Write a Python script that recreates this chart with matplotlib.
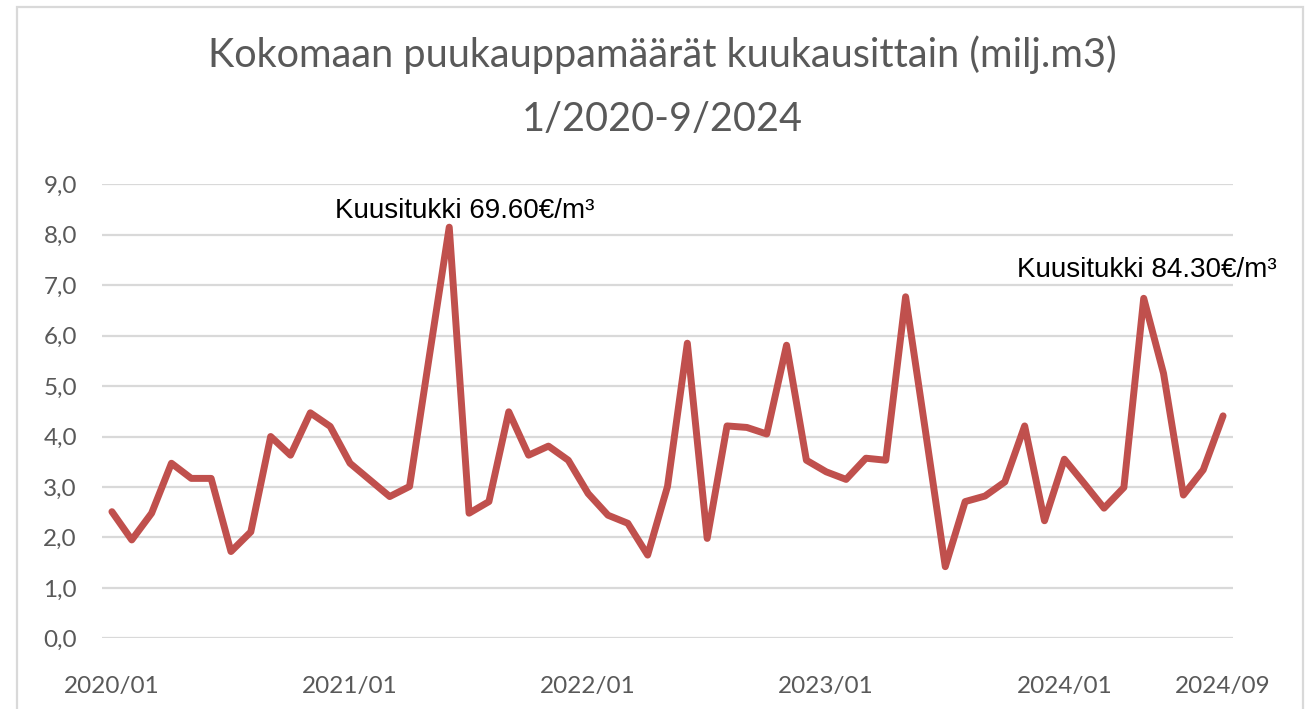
import matplotlib
matplotlib.use("Agg")
import matplotlib.pyplot as plt
from matplotlib.patches import Rectangle

# ---- data ----
months = [f"{y}/{m:02d}" for y in range(2020, 2025) for m in range(1, 13)][:57]
volumes = [2.51, 1.95, 2.48, 3.47, 3.17, 3.17, 1.72, 2.11, 4.00, 3.63, 4.47, 4.20,
           3.47, 3.14, 2.81, 3.01, 5.60, 8.15, 2.48, 2.71, 4.49, 3.63, 3.81, 3.53,
           2.87, 2.44, 2.28, 1.65, 3.01, 5.85, 1.98, 4.21, 4.18, 4.05, 5.81, 3.53,
           3.30, 3.15, 3.57, 3.53, 6.77, 4.11, 1.42, 2.71, 2.82, 3.10, 4.21, 2.33,
           3.55, 3.07, 2.58, 2.99, 6.74, 5.25, 2.84, 3.34, 4.41]
xtick_labels = ["2020/01", "2021/01", "2022/01", "2023/01", "2024/01", "2024/09"]
ytick_values = [0, 1, 2, 3, 4, 5, 6, 7, 8, 9]
title_line1 = "Kokomaan puukauppamäärät kuukausittain (milj.m3)"
title_line2 = "1/2020-9/2024"
annotations = [("Kuusitukki 69.60€/m³", 11.24, 8.33),
               ("Kuusitukki 84.30€/m³", 45.63, 7.16)]

W, H = 1305, 709
fig = plt.figure(figsize=(W / 100, H / 100), dpi=100)
fig.patch.set_facecolor("white")

ax = fig.add_axes([102 / W, 1 - 638.3 / H, (1233 - 102) / W, (638.3 - 184.3) / H])
x = list(range(len(volumes)))
ax.plot(x, volumes, color="#C0504D", lw=5.0, solid_joinstyle="round",
        solid_capstyle="round", zorder=3)

ax.set_xlim(-0.5, len(volumes) - 0.5)
ax.set_ylim(0, 9)
ax.set_yticks(ytick_values)
ax.set_yticklabels([f"{v:.1f}".replace(".", ",") for v in ytick_values])
xt = [months.index(l) for l in xtick_labels]
ax.set_xticks(xt)
ax.set_xticklabels(xtick_labels)

grey = "#595959"
ax.tick_params(axis="both", length=0, labelcolor=grey, labelsize=17.5)
ax.tick_params(axis="y", pad=18)
ax.tick_params(axis="x", pad=27)
for lab in ax.get_xticklabels() + ax.get_yticklabels():
    lab.set_fontfamily(["Lato", "DejaVu Sans"])
for s in ax.spines.values():
    s.set_visible(False)
ax.grid(axis="y", color="#d9d9d9", lw=1.6, zorder=0)
ax.set_axisbelow(True)

for txt, tx, ty in annotations:
    ax.text(tx, ty, txt, ha="left", va="baseline", fontsize=20,
            family=["Liberation Sans", "DejaVu Sans"], color="black")

fig.text(662 / W, 1 - 67 / H, title_line1, ha="center", va="baseline",
         fontsize=28.5, color=grey, family=["Lato", "DejaVu Sans"])
fig.text(662 / W, 1 - 131 / H, title_line2, ha="center", va="baseline",
         fontsize=28.5, color=grey, family=["Lato", "DejaVu Sans"])

# chart frame
fig.add_artist(Rectangle((17 / W, -0.1), (1303 - 17) / W, 1.1 - 7 / H,
                         transform=fig.transFigure, fill=False,
                         edgecolor="#d9d9d9", lw=1.6, clip_on=False))

fig.savefig("out.png", dpi=100)
